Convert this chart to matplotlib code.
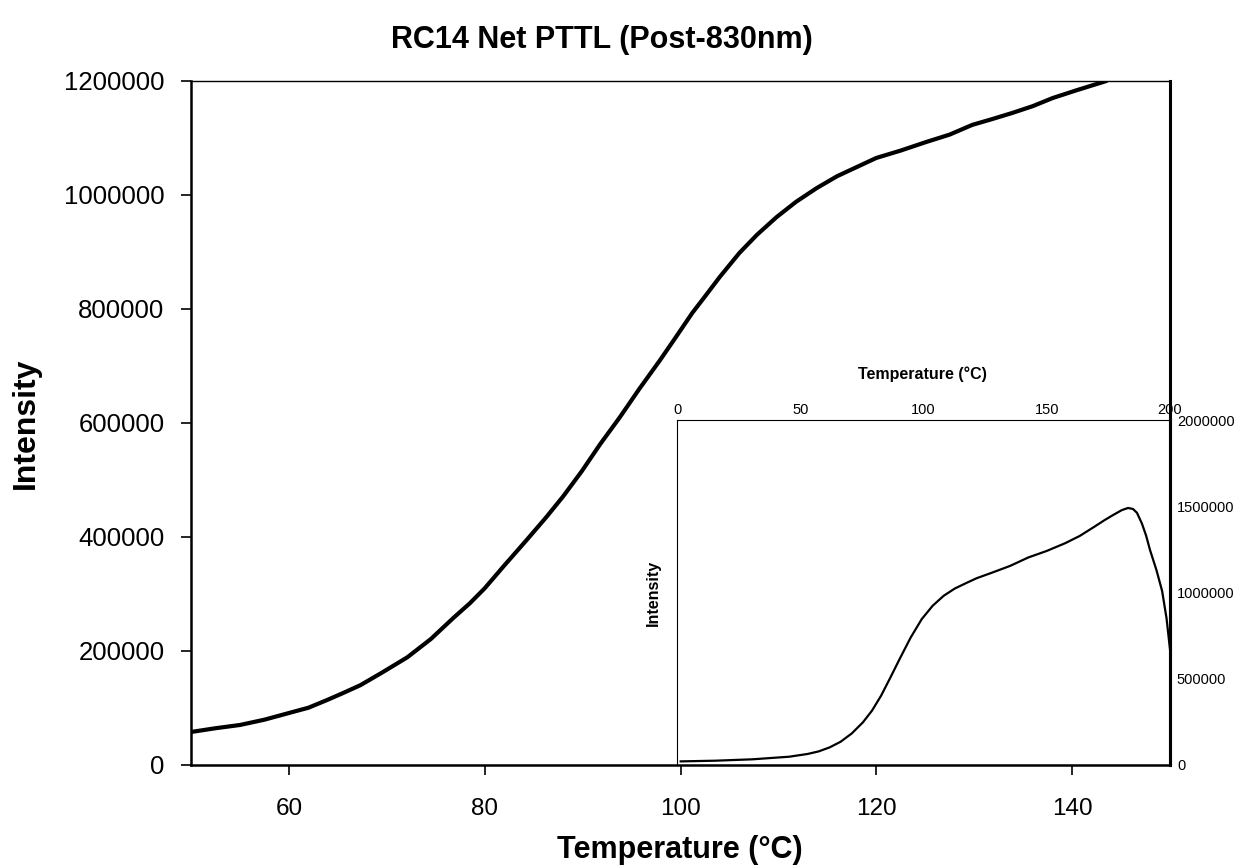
import matplotlib
matplotlib.use("Agg")
import matplotlib.pyplot as plt
from matplotlib import font_manager

# Main curve: net PTTL intensity vs temperature
main_temp = [50, 52.5, 55, 57.5, 60, 62, 63.9, 65.5, 67.3, 69.5, 72.1, 74.5, 76.8, 78.5, 80,
             82, 84.3, 86.3, 88, 89.9, 91.8, 93.8, 95.8, 97.9, 99.5, 101.2, 102.5, 104,
             106, 107.8, 109.8, 111.8, 113.9, 116, 118, 120, 122.5, 125.1, 127.5, 129.8,
             131.8, 133.9, 136, 138, 140.5, 143.5]
main_int = [57900, 64500, 70200, 79500, 91200, 100500, 114000, 126000, 140000, 162000, 189000,
            221000, 258000, 284000, 310000, 350000, 395000, 435000, 471000, 515000, 563000,
            610000, 660000, 710000, 750000, 793000, 822000, 856000, 898000, 930000, 961000,
            988000, 1012000, 1033000, 1049000, 1065000, 1078000, 1093000, 1106000, 1123000,
            1133000, 1144000, 1156000, 1170000, 1184000, 1200000]

# Inset: full glow curve
inset_temp = [1.5, 15.7, 30.6, 45.5, 53, 57.5, 61.9, 66.4, 70.9, 75.4, 79.1, 82.8, 86.6,
              90.3, 94.8, 99.3, 103.7, 108.2, 112.7, 117.2, 121.6, 127.6, 135.1, 142.5, 150,
              157.5, 163.4, 169.4, 173.5, 176.9, 180.5, 183, 185, 186.6, 188.6, 190.3,
              191.9, 194.5, 196.8, 198.6, 200]
inset_int = [21000, 25000, 33000, 48000, 64000, 79000, 102000, 135000, 183000, 247000,
             315000, 402000, 508000, 614000, 739000, 846000, 923000, 981000, 1023000,
             1054000, 1083000, 1114000, 1154000, 1203000, 1241000, 1286000, 1328000,
             1382000, 1420000, 1449000, 1478000, 1490000, 1484000, 1462000, 1400000,
             1330000, 1246000, 1130000, 1009000, 850000, 670000]

main_xticks = [60, 80, 100, 120, 140]
main_yticks = [0, 200000, 400000, 600000, 800000, 1000000, 1200000]
inset_xticks = [0, 50, 100, 150, 200]
inset_yticks = [0, 500000, 1000000, 1500000, 2000000]

available = {f.name for f in font_manager.fontManager.ttflist}
base = "Liberation Sans" if "Liberation Sans" in available else "DejaVu Sans"
plt.rcParams["font.family"] = [base, "DejaVu Sans"]

fig = plt.figure(figsize=(12.36, 8.68), dpi=100)
ax = fig.add_axes([191 / 1236, 103 / 868, 979 / 1236, 684 / 868])

ax.plot(main_temp, main_int, color="black", lw=3.0, solid_capstyle="round")
ax.set_xlim(50, 150)
ax.set_ylim(0, 1200000)
ax.set_xticks(main_xticks)
ax.set_yticks(main_yticks)
ax.set_xticklabels([str(v) for v in main_xticks], fontsize=17.5)
ax.set_yticklabels([str(v) for v in main_yticks], fontsize=18.5)
ax.tick_params(axis="both", direction="out", length=7, width=1.2, colors="black")
ax.tick_params(axis="x", pad=17)
ax.tick_params(axis="y", pad=12)
for side, lw in (("left", 1.8), ("bottom", 1.8), ("top", 1.0), ("right", 2.2)):
    ax.spines[side].set_linewidth(lw)
    ax.spines[side].set_color("black")

fig.text(602 / 1236, 1 - 40 / 868, "RC14 Net PTTL (Post-830nm)", ha="center", va="center",
         fontsize=22, fontweight="bold")
fig.text(680 / 1236, 1 - 850 / 868, "Temperature (°C)", ha="center", va="center",
         fontsize=22, fontweight="bold")
fig.text(26 / 1236, 1 - 423 / 868, "Intensity", ha="center", va="center", rotation=90,
         fontsize=23, fontweight="bold")

# Inset axes, labelled on top and right
ins = fig.add_axes([677 / 1236, 103 / 868, 493 / 1236, 345 / 868])
ins.patch.set_alpha(0)
ins.plot(inset_temp, inset_int, color="black", lw=1.6)
ins.set_xlim(0, 200)
ins.set_ylim(0, 2000000)
ins.set_xticks(inset_xticks)
ins.set_yticks(inset_yticks)
ins.xaxis.tick_top()
ins.yaxis.tick_right()
ins.set_xticklabels([str(v) for v in inset_xticks], fontsize=10.5)
ins.set_yticklabels([str(v) for v in inset_yticks], fontsize=10.5)
ins.tick_params(axis="x", length=0, pad=2)
ins.tick_params(axis="y", length=0, pad=5)
ins.spines["bottom"].set_visible(False)
ins.spines["left"].set_linewidth(0.8)
ins.spines["top"].set_linewidth(0.8)
ins.spines["right"].set_linewidth(2.2)
fig.text(922 / 1236, 1 - 374 / 868, "Temperature (°C)", ha="center", va="center",
         fontsize=11.5, fontweight="bold")
fig.text(653 / 1236, 1 - 593 / 868, "Intensity", ha="center", va="center", rotation=90,
         fontsize=11.5, fontweight="bold")

fig.savefig("out.png", dpi=100, facecolor="white")
